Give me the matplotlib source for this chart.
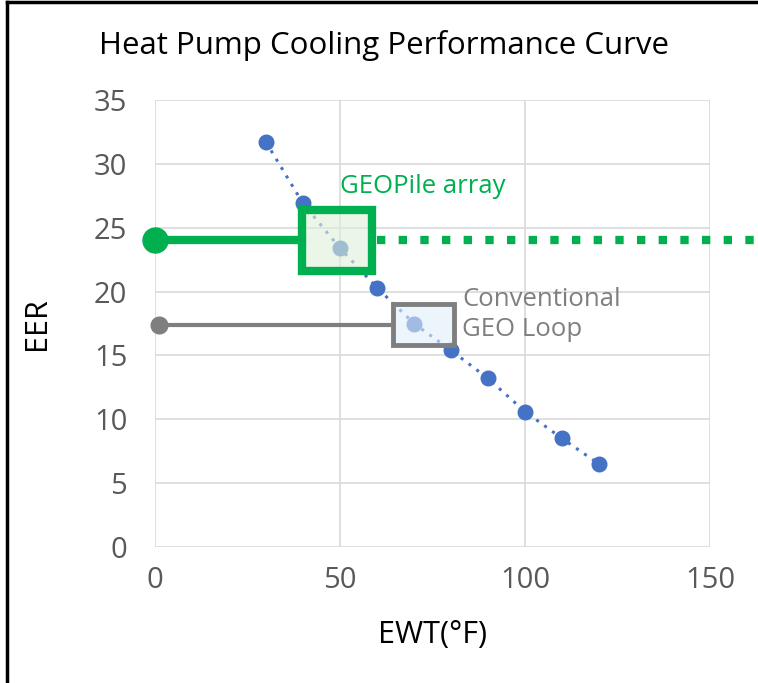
import matplotlib
matplotlib.use("Agg")
import matplotlib.pyplot as plt
from matplotlib.patches import Rectangle
from matplotlib.lines import Line2D

plt.rcParams['font.family'] = ['Open Sans', 'DejaVu Sans']

# 성능곡선 데이터 (EWT °F, EER)
EWT = [30, 40, 50, 60, 70, 80, 90, 100, 110, 120]
EER = [31.7, 26.9, 23.4, 20.3, 17.5, 15.4, 13.2, 10.6, 8.5, 6.5]

GEOPILE_EER = 24.0
GEOPILE_BOX = (39.7, 21.6, 58.6, 26.4)   # x0, y0, x1, y1
CONV_EER = 17.4
CONV_BOX = (64.3, 15.8, 80.8, 19.0)

XTICKS = [0, 50, 100, 150]
YTICKS = [0, 5, 10, 15, 20, 25, 30, 35]

GREEN = "#00b050"
GRAY = "#7f7f7f"
BLUE = "#4472c4"
TICK = "#595959"

fig = plt.figure(figsize=(7.58, 6.83), dpi=100)
ax = fig.add_axes([0.2045, 0.1991, 0.7322, 0.6545])

ax.set_xlim(0, 150)
ax.set_ylim(0, 35)
ax.set_xticks(XTICKS)
ax.set_yticks(YTICKS)
ax.grid(color="#d9d9d9", lw=1.2)
ax.set_axisbelow(True)
for s in ax.spines.values():
    s.set_visible(False)
ax.tick_params(length=0, labelsize=21, labelcolor=TICK)
ax.tick_params(axis="x", pad=14)
ax.tick_params(axis="y", pad=20)

# 곡선 + 점
ax.plot(EWT, EER, ls=(0, (1, 2.2)), color=BLUE, lw=2.2, zorder=2)
ax.plot(EWT, EER, ls="none", marker="o", ms=10.5, color=BLUE, zorder=3)

# GEOPile
x0, y0, x1, y1 = GEOPILE_BOX
ax.plot([0, x0], [GEOPILE_EER, GEOPILE_EER], color=GREEN, lw=6, zorder=4)
ax.plot([0], [GEOPILE_EER], marker="o", ms=18, color=GREEN, zorder=5, clip_on=False)
ax.add_patch(Rectangle((x0, y0), x1 - x0, y1 - y0, facecolor=(0.88, 0.94, 0.85, 0.6),
                       edgecolor=GREEN, lw=6, zorder=4))
ax.add_line(Line2D([x1 + 1.5, 165], [GEOPILE_EER, GEOPILE_EER], color=GREEN, lw=6,
                   ls=(0, (1, 1.6)), zorder=4, clip_on=False))
ax.text(50, 28.2, "GEOPile array", color=GREEN, fontsize=18.5, va="center", ha="left")

# Conventional
x0, y0, x1, y1 = CONV_BOX
ax.plot([0, x0], [CONV_EER, CONV_EER], color=GRAY, lw=3, zorder=4)
ax.plot([1.2], [CONV_EER], marker="o", ms=12, color=GRAY, zorder=5, clip_on=False)
ax.add_patch(Rectangle((x0, y0), x1 - x0, y1 - y0, facecolor=(0.88, 0.93, 0.98, 0.6),
                       edgecolor=GRAY, lw=3.5, zorder=4))
ax.text(83, 18.2, "Conventional\nGEO Loop", color=GRAY, fontsize=18.5, va="center",
        ha="left", linespacing=1.3)

ax.set_xlabel("EWT(°F)", fontsize=22, labelpad=18)
ax.set_ylabel("EER", fontsize=22, labelpad=30)
fig.text(0.507, 0.934, "Heat Pump Cooling Performance Curve", fontsize=22.5,
         ha="center", va="center")

# 외곽 테두리 (좌·상)
fig.add_artist(Line2D([0.009, 0.009], [0, 0.997], color="black", lw=2.5, transform=fig.transFigure))
fig.add_artist(Line2D([0.009, 1], [0.997, 0.997], color="black", lw=2.5, transform=fig.transFigure))

fig.savefig("out.png", dpi=100)
